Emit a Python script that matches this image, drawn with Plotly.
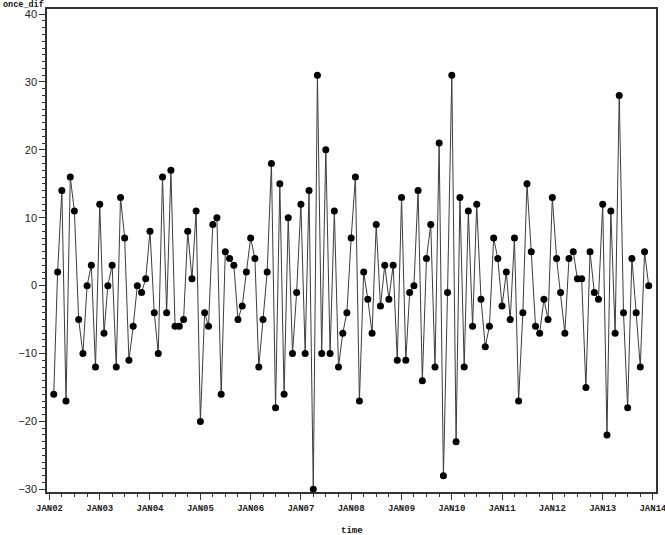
import pandas as pd
import plotly.graph_objects as go

# monthly first differences, FEB2002 .. DEC2013
values = [
    -16, 2, 14, -17, 16, 11, -5, -10, 0, 3, -12,
    12, -7, 0, 3, -12, 13, 7, -11, -6, 0, -1, 1,
    8, -4, -10, 16, -4, 17, -6, -6, -5, 8, 1, 11,
    -20, -4, -6, 9, 10, -16, 5, 4, 3, -5, -3, 2,
    7, 4, -12, -5, 2, 18, -18, 15, -16, 10, -10, -1,
    12, -10, 14, -30, 31, -10, 20, -10, 11, -12, -7, -4,
    7, 16, -17, 2, -2, -7, 9, -3, 3, -2, 3, -11,
    13, -11, -1, 0, 14, -14, 4, 9, -12, 21, -28, -1,
    31, -23, 13, -12, 11, -6, 12, -2, -9, -6, 7, 4,
    -3, 2, -5, 7, -17, -4, 15, 5, -6, -7, -2, -5,
    13, 4, -1, -7, 4, 5, 1, 1, -15, 5, -1, -2,
    12, -22, 11, -7, 28, -4, -18, 4, -4, -12, 5, 0,
]
dates = pd.date_range("2002-02-01", periods=len(values), freq="MS")

tick_years = list(range(2002, 2015))
tick_vals = [f"{y}-01-01" for y in tick_years]
tick_text = [f"JAN{y % 100:02d}" for y in tick_years]

fig = go.Figure()
fig.add_trace(go.Scatter(
    x=dates, y=values, mode="lines+markers",
    line=dict(color="#3c3c3c", width=1),
    marker=dict(color="black", size=7),
    showlegend=False,
))

axis_line = dict(showline=True, linecolor="#333333", linewidth=1.5, mirror=True,
                 showgrid=False, zeroline=False, ticks="outside", tickcolor="#333333",
                 ticklabeloverflow="allow", automargin=False)

fig.update_xaxes(
    **axis_line,
    range=["2001-12-14", "2014-01-23"],
    tickmode="array", tickvals=tick_vals, ticktext=tick_text,
    ticklen=6, tickwidth=1.2,
    tickfont=dict(family="Liberation Mono", size=9, color="#222222", weight="bold"),
    minor=dict(ticks="outside", dtick="M3", tick0="2002-01-01", ticklen=3,
               tickcolor="#333333", tickwidth=1),
)
fig.update_yaxes(
    **axis_line,
    range=[-30.4, 40.75],
    tickmode="linear", tick0=-30, dtick=10,
    ticklen=6, tickwidth=1.2,
    tickfont=dict(family="Liberation Sans", size=11, color="#222222"),
    minor=dict(ticks="outside", dtick=1, ticklen=3, tickcolor="#333333", tickwidth=1),
)

fig.add_annotation(text="once_dif", xref="paper", yref="paper",
                   x=-0.076, y=1.008, xanchor="left", yanchor="middle",
                   showarrow=False,
                   font=dict(family="Liberation Mono", size=8.5, color="#111111", weight="bold"))
fig.add_annotation(text="time", xref="paper", yref="paper",
                   x=0.5, y=-0.08, xanchor="center", yanchor="middle",
                   showarrow=False,
                   font=dict(family="Liberation Mono", size=9, color="#111111", weight="bold"))

fig.update_layout(
    width=665, height=535,
    margin=dict(l=47, r=9, t=9, b=43),
    paper_bgcolor="white", plot_bgcolor="white",
)

fig.write_html("out.html", config={"displayModeBar": False},
               post_script="document.body.style.margin='0';document.body.style.overflow='hidden';")
